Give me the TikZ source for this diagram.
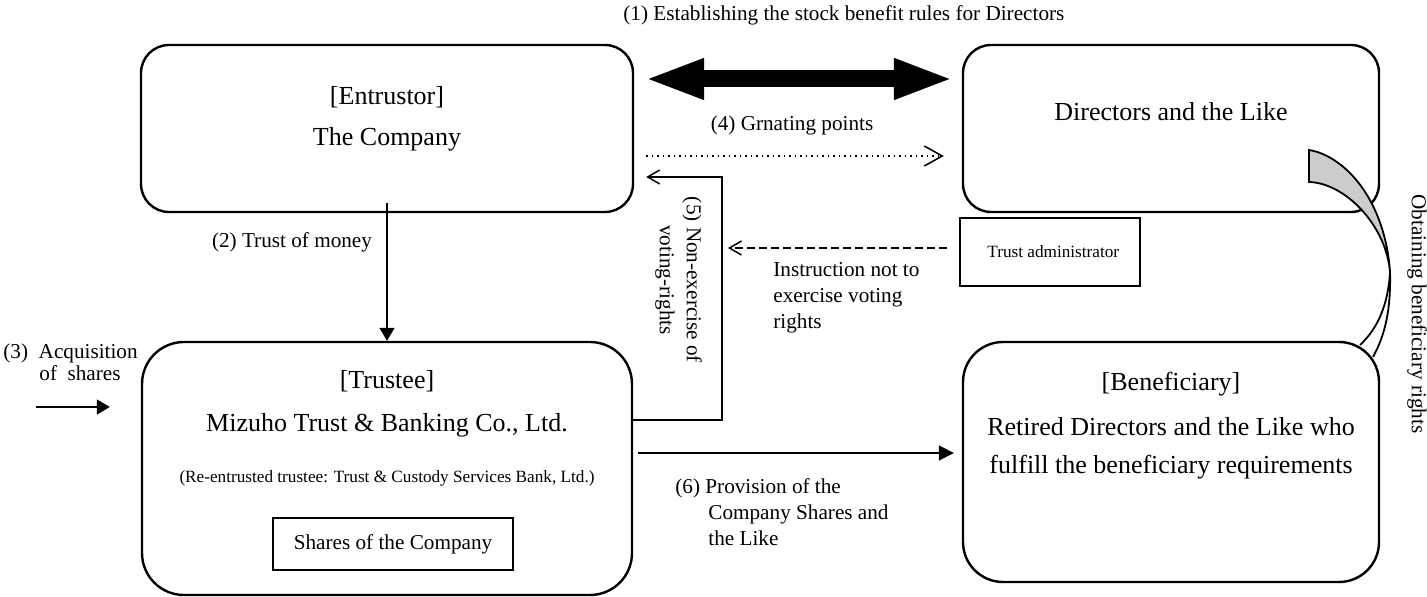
\documentclass[tikz,border=0pt]{standalone}
\usepackage{fontspec}
\setmainfont{Liberation Serif}
\usetikzlibrary{positioning, arrows.meta}

\begin{document}
\begin{tikzpicture}[x=0.5pt, y=-0.5pt,
    every node/.style={font=\fontsize{10.6}{13}\selectfont, inner sep=0pt},
    bigtext/.style={font=\fontsize{13}{16}\selectfont},
    smalltext/.style={font=\fontsize{8.6}{10}\selectfont},
    party/.style={draw, line width=1.2pt, minimum width=#1},
    plainbox/.style={draw, line width=0.9pt},
    link/.style={line width=0.75pt},
    filledtip/.style={-{Triangle[length=6.5pt, width=7.5pt]}},
    barbtip/.style={-{Straight Barb[length=6pt, width=7pt]}}]
  \useasboundingbox (0,0) rectangle (1427,597);

  \node[party=246pt, rounded corners=14pt, minimum height=83.5pt] (entrustor) at (387,128.5) {};
  \node[bigtext] (entrustortitle) at (387,97) {[Entrustor]};
  \node[bigtext] (entrustorname) at (387,139) {The Company};

  \node[party=208pt, rounded corners=14pt, minimum height=83.5pt] (directors) at (1171,128.5) {};
  \node[bigtext] (directorsname) at (1171,112) {Directors and the Like};

  \node[party=245pt, rounded corners=21pt, minimum height=126.5pt] (trustee) at (387,468.5) {};
  \node[bigtext] (trusteetitle) at (387,381) {[Trustee]};
  \node[bigtext] (trusteename) at (387,425) {Mizuho Trust \& Banking Co., Ltd.};
  \node[smalltext] (reentrusted) at (387,478) {(Re-entrusted trustee: Trust \& Custody Services Bank, Ltd.)};
  \node[plainbox, minimum width=120pt, minimum height=26pt] (shares) at (393,544) {Shares of the Company};

  \node[party=208pt, rounded corners=20pt, minimum height=120pt] (beneficiary) at (1171,462) {};
  \node[bigtext] (beneficiarytitle) at (1171,384) {[Beneficiary]};
  \node[bigtext] (beneficiaryline1) at (1171,427) {Retired Directors and the Like who};
  \node[bigtext] (beneficiaryline2) at (1171,467) {fulfill the beneficiary requirements};

  \node[plainbox, minimum width=90pt, minimum height=34pt] (admin) at (1050,252) {};
  \node[smalltext, anchor=west] (admintext) at (987,252) {Trust administrator};

  \coordinate (y79) at (0,79);
  \coordinate (y156) at (0,156);
  \coordinate (bend) at (722,177);
  \coordinate (y248) at (0,248);
  \coordinate (y420) at (0,420);
  \coordinate (y453) at (0,453);
  \coordinate (acqstart) at (36,407);

  % (1)
  \draw[line width=8.5pt, {Triangle[length=30pt, width=18.5pt]}-{Triangle[length=30pt, width=18.5pt]}]
    ([xshift=5pt]entrustor.east |- y79) -- ([xshift=-4pt]directors.west |- y79);
  \node[anchor=west] (rules) at (623,15) {(1) Establishing the stock benefit rules for Directors};

  % (2)
  \draw[link, filledtip] ([yshift=5pt]entrustor.south) -- (entrustor.south |- trustee.north);
  \node (money) at (292,242) {(2) Trust of money};

  % (3)
  \draw[link, filledtip] (acqstart) -- ([xshift=-15.5pt]trustee.west |- acqstart);
  \node[anchor=west, align=left, font=\fontsize{10.6}{11}\selectfont] (acquisition) at (3,362)
    {(3)\ \ Acquisition\\\hspace*{18pt}of\ \ shares};

  % (4)
  \draw[link, dotted, -{Straight Barb[length=9pt, width=10pt]}]
    ([xshift=6pt]entrustor.east |- y156) -- ([xshift=-9pt]directors.west |- y156);
  \node (points) at (792,125) {(4) Grnating points};

  % (5)
  \draw[link, barbtip] (trustee.east |- y420) -| (bend) -- ([xshift=6pt]entrustor.east |- bend);
  \node[rotate=-90, align=center, font=\fontsize{10.6}{13.5}\selectfont] (nonexercise) at (678.5,280)
    {(5) Non-exercise of\\voting-rights};
  \draw[link, dash pattern=on 4pt off 2pt, barbtip] ([xshift=-6pt]admin.west |- y248) -- ([xshift=3pt]bend |- y248);
  \node[anchor=north west, align=left] (instruction) at (773,262) {Instruction not to\\exercise voting\\rights};

  % (6)
  \draw[link, -{Triangle[length=7.5pt, width=7.5pt]}]
    ([xshift=2.5pt]trustee.east |- y453) -- ([xshift=-4pt]beneficiary.west |- y453);
  \node[anchor=north west, align=left] (provision) at (675,478)
    {(6) Provision of the\\\hspace*{16.5pt}Company Shares and\\\hspace*{16.5pt}the Like};

  % rights
  \filldraw[fill=gray!40, line width=0.9pt]
    (1309,150) .. controls (1345,156) and (1385,200) .. (1390,272)
    .. controls (1386,225) and (1345,183) .. (1309,182) -- cycle;
  \draw[line width=0.9pt] (1390,272) .. controls (1391,310) and (1385,335) .. (1373,357);
  \draw[line width=0.9pt] (1390,272) .. controls (1388,305) and (1378,328) .. (1360,345);
  \node[rotate=-90] (obtaining) at (1417,314) {Obtaining beneficiary rights};
\end{tikzpicture}
\end{document}
